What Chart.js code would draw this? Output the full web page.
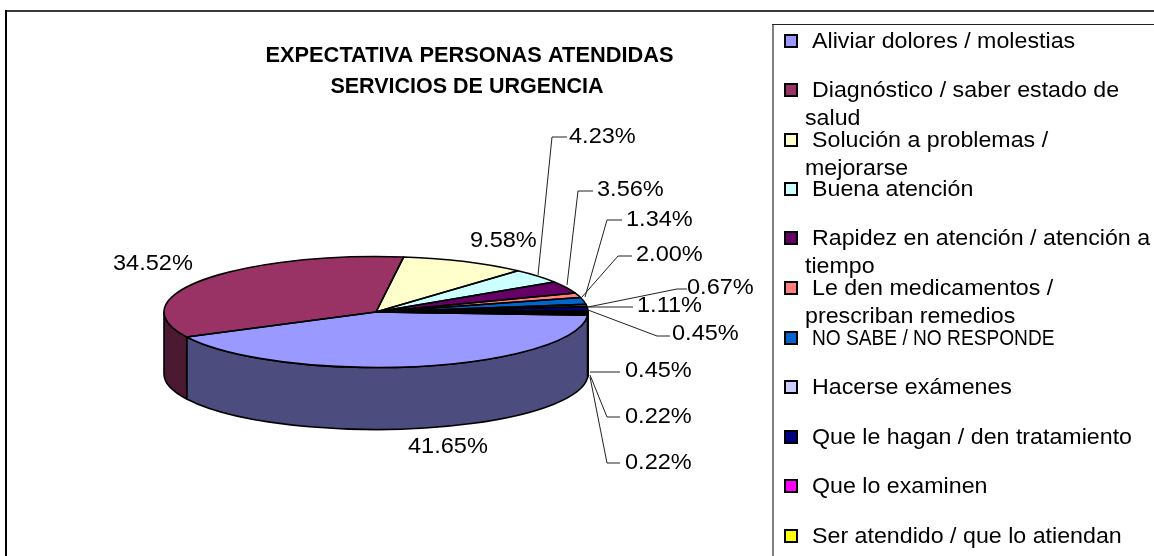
<!DOCTYPE html>
<html lang="es"><head><meta charset="utf-8">
<style>html,body{margin:0;padding:0;background:#fff;overflow:hidden}canvas{display:block}</style>
<script src="https://cdn.jsdelivr.net/npm/chart.js@4"></script>
</head><body><canvas id="c" width="1154" height="556"></canvas>
<script>
const titleLines = ['EXPECTATIVA PERSONAS ATENDIDAS', 'SERVICIOS DE URGENCIA'];
const categories = [
  'Aliviar dolores / molestias',
  ['Diagnóstico / saber estado de', 'salud'],
  ['Solución a problemas /', 'mejorarse'],
  'Buena atención',
  ['Rapidez en atención / atención a', 'tiempo'],
  ['Le den medicamentos /', 'prescriban remedios'],
  'NO SABE / NO RESPONDE',
  'Hacerse exámenes',
  'Que le hagan / den tratamiento',
  'Que lo examinen',
  'Ser atendido / que lo atiendan'
];
const values = [41.65, 34.52, 9.58, 4.23, 3.56, 1.34, 2.00, 0.67, 1.11, 0.45, 0.45, 0.22, 0.22];
const colors = ['#9999FF','#993366','#FFFFCC','#CCFFFF','#660066','#FF8080','#0066CC','#CCCCFF','#000080','#FF00FF','#FFFF00','#00FFFF','#800080'];

// layout (not data)
const cx = 376, cy = 312, rx = 212, ry = 55.5, depth = 62;
const FONT = '"Liberation Sans", Arial, sans-serif';
const labelPos = [[408,453],[113,270],[470,247],[569,143],[597,196],[626,226],[636,261],[687,294],[637,312],[672,340],[625,377],[625,423],[625,469]];
const leaders = [null,null,null,
  [[538,275],[552,137],[567,137]],
  [[567,285],[578,191],[593,191]],
  [[585,297],[607,220],[622,220]],
  [[582,297],[618,256],[632,256]],
  [[588,307],[677,289],[687,289]],
  [[588,307],[633,307]],
  [[588,310],[657,336],[670,336]],
  [[590,372],[620,372]],
  [[590,375],[607,417],[620,417]],
  [[590,377],[607,463],[620,463]]];
const legendRows = [41,90,140,189,238,288,338,387,437,486,536];

function dark(hex){
  const n = parseInt(hex.slice(1),16);
  return `rgb(${(n>>16&255)>>1},${(n>>8&255)>>1},${(n&255)>>1})`;
}
function stretched(ctx, text, x, y, font, sx, align){
  ctx.save();
  ctx.font = font; ctx.fillStyle = '#000'; ctx.textBaseline = 'alphabetic'; ctx.textAlign = 'left';
  const w = ctx.measureText(text).width * sx;
  const x0 = align === 'center' ? x - w/2 : x;
  ctx.translate(x0, y); ctx.scale(sx, 1);
  ctx.fillText(text, 0, 0);
  ctx.restore();
}
const pie3d = {
  id: 'pie3d',
  beforeDraw(chart){
    const ctx = chart.ctx;
    ctx.save();
    ctx.fillStyle = '#fff'; ctx.fillRect(0,0,1154,556);
    // outer frame
    ctx.fillStyle = '#3c3c3c'; ctx.fillRect(5,10,1149,2);
    ctx.fillStyle = '#000'; ctx.fillRect(5,10,2,546);
    // legend frame
    ctx.fillStyle = '#808080'; ctx.fillRect(772,24,2,532);
    ctx.fillStyle = '#222'; ctx.fillRect(772,24,382,1);
    ctx.restore();
  },
  beforeDatasetsDraw(chart){
    const ctx = chart.ctx, arcs = chart.getDatasetMeta(0).data;
    ctx.save();
    ctx.lineWidth = 1.6; ctx.strokeStyle = '#000'; ctx.lineJoin = 'round';
    arcs.forEach((el,i) => {
      for (const off of [0, 2*Math.PI]) {
        const a = Math.max(el.startAngle, off), b = Math.min(el.endAngle, off + Math.PI);
        if (b <= a) continue;
        ctx.beginPath();
        ctx.ellipse(el.x, el.y, rx, ry, 0, a, b);
        ctx.ellipse(el.x, el.y + depth, rx, ry, 0, b, a, true);
        ctx.closePath();
        ctx.fillStyle = dark(colors[i]);
        ctx.fill(); ctx.stroke();
      }
    });
    ctx.restore();
  },
  beforeDatasetDraw(chart){
    const ctx = chart.ctx;
    ctx.save();
    ctx.translate(cx, cy); ctx.scale(1, ry/rx); ctx.translate(-cx, -cy);
  },
  afterDatasetDraw(chart){ chart.ctx.restore(); },
  afterDatasetsDraw(chart){
    const ctx = chart.ctx, arcs = chart.getDatasetMeta(0).data;
    ctx.save();
    ctx.lineWidth = 1.6; ctx.strokeStyle = '#000'; ctx.lineJoin = 'round';
    arcs.forEach(el => {
      ctx.beginPath();
      ctx.moveTo(el.x, el.y);
      ctx.ellipse(el.x, el.y, rx, ry, 0, el.startAngle, el.endAngle);
      ctx.closePath();
      ctx.stroke();
    });
    // leader lines
    ctx.lineWidth = 1; ctx.strokeStyle = '#222';
    leaders.forEach(l => {
      if (!l) return;
      ctx.beginPath();
      l.forEach((p,i) => i ? ctx.lineTo(p[0],p[1]) : ctx.moveTo(p[0],p[1]));
      ctx.stroke();
    });
    ctx.restore();
    // value labels
    values.forEach((v,i) => stretched(ctx, v.toFixed(2)+'%', labelPos[i][0], labelPos[i][1], '22px '+FONT, 1.07));
    // title
    stretched(ctx, titleLines[0], 469.5, 62, 'bold 21.5px '+FONT, 1.015, 'center');
    stretched(ctx, titleLines[1], 467, 93, 'bold 21.5px '+FONT, 1.0, 'center');
    // legend
    categories.forEach((c,i) => {
      const y = legendRows[i], lines = Array.isArray(c) ? c : [c];
      ctx.save();
      ctx.fillStyle = colors[i]; ctx.strokeStyle = '#000'; ctx.lineWidth = 2;
      ctx.fillRect(785,y-6,12,12); ctx.strokeRect(785,y-6,12,12);
      ctx.restore();
      const sx = c === 'NO SABE / NO RESPONDE' ? 0.87 : 1.055;
      stretched(ctx, lines[0], 812, y+6.5, '22px '+FONT, sx);
      if (lines[1]) stretched(ctx, lines[1], 805, y+35, '22px '+FONT, sx);
    });
  }
};
new Chart(document.getElementById('c'), {
  type: 'pie',
  data: { labels: categories, datasets: [{ data: values, backgroundColor: colors, borderWidth: 0, clip: false }] },
  options: {
    responsive: false, animation: false,
    rotation: 93.3, radius: rx,
    layout: { padding: { right: 402, top: 68 } },
    plugins: { legend: { display: false }, title: { display: false }, tooltip: { enabled: false } }
  },
  plugins: [pie3d]
});
</script></body></html>
